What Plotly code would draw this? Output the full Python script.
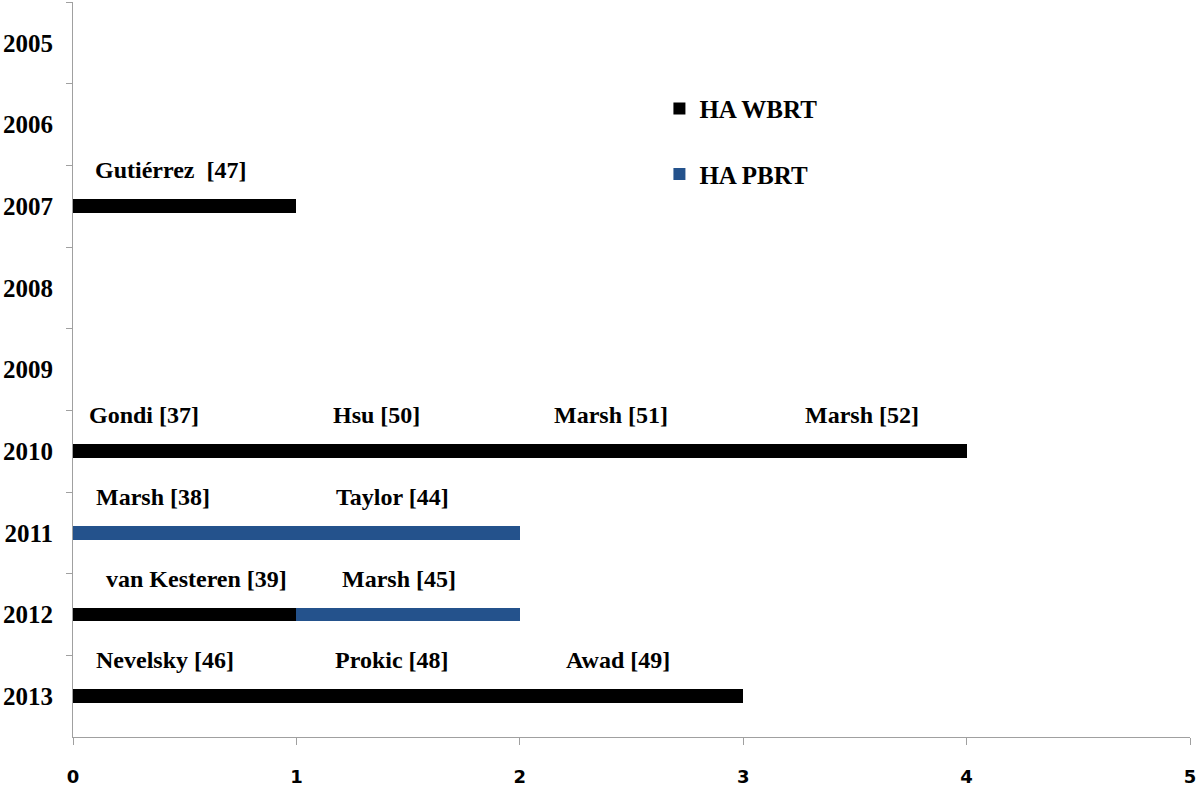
import plotly.graph_objects as go

years = ["2005", "2006", "2007", "2008", "2009", "2010", "2011", "2012", "2013"]
wbrt_counts = [0, 0, 1, 0, 0, 4, 0, 1, 3]
pbrt_counts = [0, 0, 0, 0, 0, 0, 2, 1, 0]

study_years = ["2007", "2010", "2010", "2010", "2010", "2011", "2011",
               "2012", "2012", "2013", "2013", "2013"]
study_names = ["Gutiérrez  [47]", "Gondi [37]", "Hsu [50]", "Marsh [51]", "Marsh [52]",
               "Marsh [38]", "Taylor [44]", "van Kesteren [39]", "Marsh [45]",
               "Nevelsky [46]", "Prokic [48]", "Awad [49]"]
study_label_x = [0.44, 0.32, 1.36, 2.41, 3.53, 0.36, 1.43, 0.555, 1.46, 0.41, 1.43, 2.44]

x_ticks = [0, 1, 2, 3, 4, 5]

BLACK = "#000000"
BLUE = "#24528c"
AXIS = "#a0a0a0"
SERIF = "Liberation Serif"

fig = go.Figure()
fig.add_trace(go.Bar(y=years, x=wbrt_counts, orientation="h", name="HA WBRT",
                     marker=dict(color=BLACK, line=dict(width=0)), legendgroup="a"))
fig.add_trace(go.Bar(y=years, x=pbrt_counts, orientation="h", name="HA PBRT",
                     marker=dict(color=BLUE, line=dict(width=0)), legendgroup="b"))

for yr, name, lx in zip(study_years, study_names, study_label_x):
    fig.add_annotation(x=lx, y=years.index(yr), xref="x", yref="y", text=name,
                       showarrow=False, yshift=36, xanchor="center", yanchor="middle",
                       font=dict(family=SERIF, size=24, color="#000000", weight="bold"))

fig.update_layout(
    width=1200, height=786,
    margin=dict(l=73, r=10, t=2, b=49),
    paper_bgcolor="white", plot_bgcolor="white",
    barmode="stack", bargap=0.83,
    showlegend=True,
    legend=dict(x=0.525, y=0.886, xanchor="left", yanchor="top",
                font=dict(family=SERIF, size=25, color="#000000", weight="bold"),
                traceorder="grouped", tracegroupgap=30, bgcolor="rgba(0,0,0,0)"),
    xaxis=dict(range=[0, 5], tickmode="array", tickvals=x_ticks, automargin=False,
               showgrid=False, zeroline=False, showline=True, linecolor=AXIS, linewidth=1,
               ticks="outside", ticklen=7, tickcolor=AXIS, ticklabelstandoff=16,
               tickfont=dict(family="DejaVu Sans", size=18, color="#000000", weight="bold")),
    yaxis=dict(type="category", categoryorder="array", categoryarray=years,
               range=[len(years) - 0.5, -0.5], automargin=False,
               showgrid=False, zeroline=False, showline=True, linecolor=AXIS, linewidth=1,
               ticks="outside", ticklen=6, tickcolor=AXIS, tickson="boundaries",
               ticklabelstandoff=14,
               tickfont=dict(family=SERIF, size=25, color="#000000", weight="bold")),
)

fig.write_html("out.html", config={"displayModeBar": False},
               post_script="document.body.style.margin='0';document.body.style.overflow='hidden';")
